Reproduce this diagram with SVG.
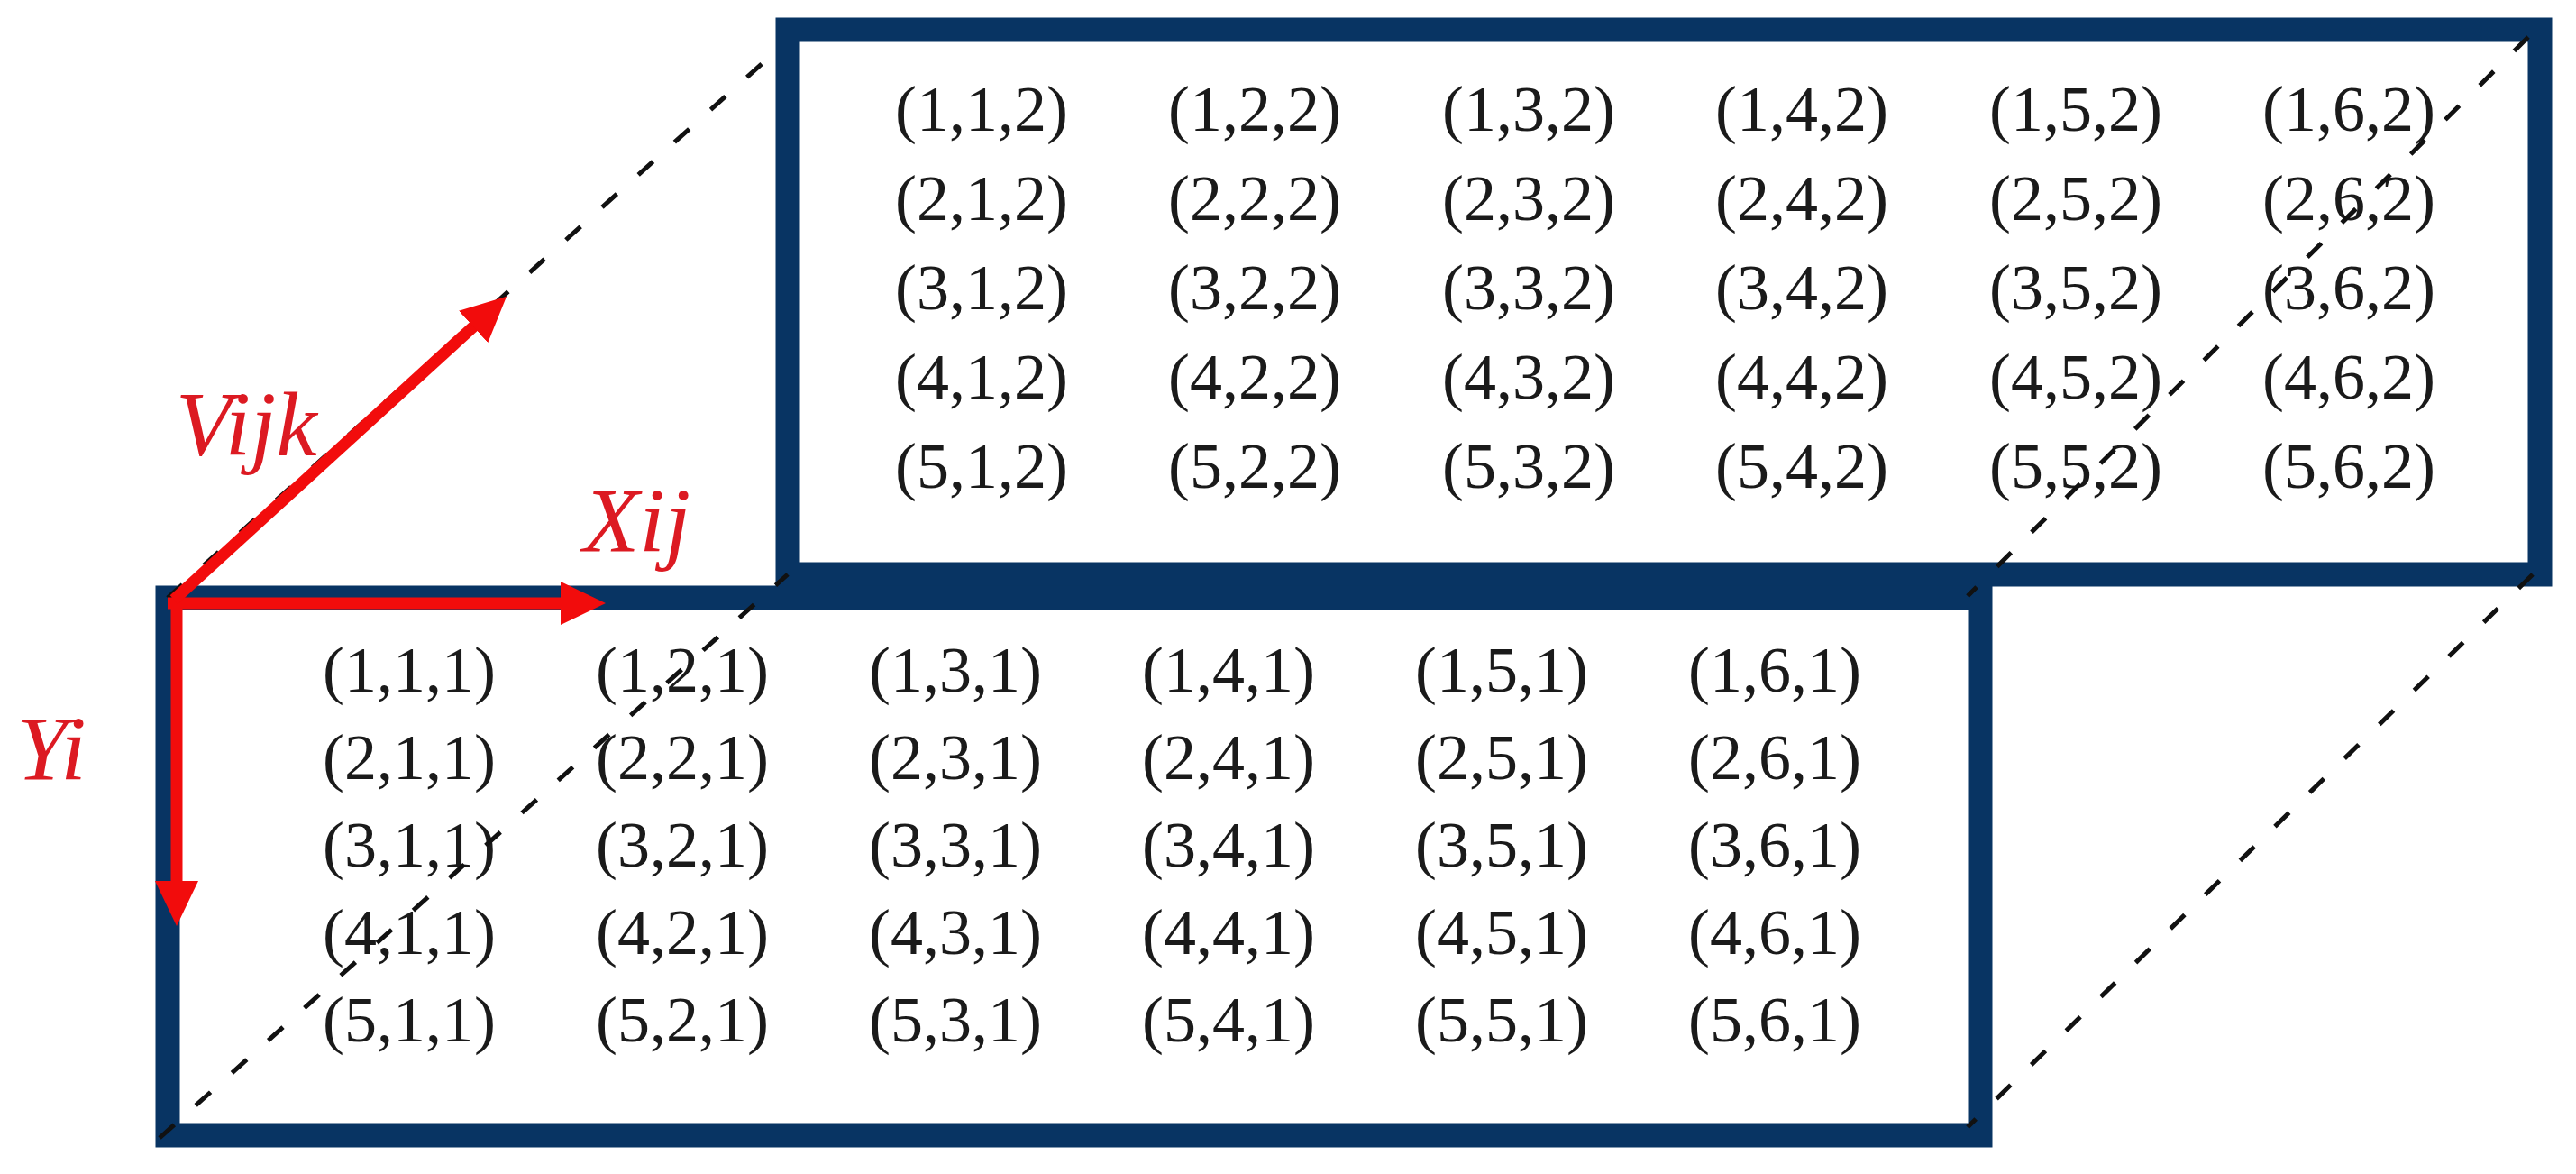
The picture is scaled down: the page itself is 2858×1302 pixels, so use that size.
<svg xmlns="http://www.w3.org/2000/svg" width="2858" height="1302" viewBox="0 0 2858 1302">
<style>
.box{fill:#fff;stroke:#083463;stroke-width:27}
.cell{font-family:"Liberation Serif","Times New Roman",serif;font-size:72px;fill:#1a1a1a}
.dash{stroke:#111;stroke-width:5;stroke-dasharray:22 32;fill:none}
.axis{stroke:#f20c0c;stroke-width:13;fill:none}
.lbl{font-family:"Liberation Serif","Times New Roman",serif;font-style:italic;font-size:102px;fill:#dc1a22}
</style>
<defs>
<marker id="ah" viewBox="0 0 50 48" markerWidth="50" markerHeight="48" refX="8" refY="24" orient="auto" markerUnits="userSpaceOnUse">
<path d="M0,0 L50,24 L0,48 z" fill="#f20c0c"/>
</marker>
</defs>
<rect width="2858" height="1302" fill="#fff"/>
<g id="back-layer">
<rect class="box" x="874" y="33" width="1944" height="604"/>
<g class="cell">
<text x="993" y="145">(1,1,2)</text><text x="1296" y="145">(1,2,2)</text><text x="1600" y="145">(1,3,2)</text><text x="1903" y="145">(1,4,2)</text><text x="2207" y="145">(1,5,2)</text><text x="2510" y="145">(1,6,2)</text>
<text x="993" y="244">(2,1,2)</text><text x="1296" y="244">(2,2,2)</text><text x="1600" y="244">(2,3,2)</text><text x="1903" y="244">(2,4,2)</text><text x="2207" y="244">(2,5,2)</text><text x="2510" y="244">(2,6,2)</text>
<text x="993" y="343">(3,1,2)</text><text x="1296" y="343">(3,2,2)</text><text x="1600" y="343">(3,3,2)</text><text x="1903" y="343">(3,4,2)</text><text x="2207" y="343">(3,5,2)</text><text x="2510" y="343">(3,6,2)</text>
<text x="993" y="442">(4,1,2)</text><text x="1296" y="442">(4,2,2)</text><text x="1600" y="442">(4,3,2)</text><text x="1903" y="442">(4,4,2)</text><text x="2207" y="442">(4,5,2)</text><text x="2510" y="442">(4,6,2)</text>
<text x="993" y="541">(5,1,2)</text><text x="1296" y="541">(5,2,2)</text><text x="1600" y="541">(5,3,2)</text><text x="1903" y="541">(5,4,2)</text><text x="2207" y="541">(5,5,2)</text><text x="2510" y="541">(5,6,2)</text>
</g>
</g>
<g id="front-layer">
<rect class="box" x="186" y="663" width="2011" height="596"/>
<g class="cell">
<text x="358" y="767">(1,1,1)</text><text x="661" y="767">(1,2,1)</text><text x="964" y="767">(1,3,1)</text><text x="1267" y="767">(1,4,1)</text><text x="1570" y="767">(1,5,1)</text><text x="1873" y="767">(1,6,1)</text>
<text x="358" y="864">(2,1,1)</text><text x="661" y="864">(2,2,1)</text><text x="964" y="864">(2,3,1)</text><text x="1267" y="864">(2,4,1)</text><text x="1570" y="864">(2,5,1)</text><text x="1873" y="864">(2,6,1)</text>
<text x="358" y="961">(3,1,1)</text><text x="661" y="961">(3,2,1)</text><text x="964" y="961">(3,3,1)</text><text x="1267" y="961">(3,4,1)</text><text x="1570" y="961">(3,5,1)</text><text x="1873" y="961">(3,6,1)</text>
<text x="358" y="1058">(4,1,1)</text><text x="661" y="1058">(4,2,1)</text><text x="964" y="1058">(4,3,1)</text><text x="1267" y="1058">(4,4,1)</text><text x="1570" y="1058">(4,5,1)</text><text x="1873" y="1058">(4,6,1)</text>
<text x="358" y="1155">(5,1,1)</text><text x="661" y="1155">(5,2,1)</text><text x="964" y="1155">(5,3,1)</text><text x="1267" y="1155">(5,4,1)</text><text x="1570" y="1155">(5,5,1)</text><text x="1873" y="1155">(5,6,1)</text>
</g>
</g>
<g id="connectors">
<line class="dash" x1="186" y1="663" x2="866" y2="52"/>
<line class="dash" x1="177" y1="1262" x2="874" y2="637"/>
<line class="dash" x1="2805" y1="41" x2="2183" y2="661"/>
<line class="dash" x1="2810" y1="637" x2="2183" y2="1250"/>
</g>
<g id="axes">
<line class="axis" x1="186" y1="669" x2="630" y2="669" marker-end="url(#ah)"/>
<line class="axis" x1="196" y1="663" x2="196" y2="985" marker-end="url(#ah)"/>
<line class="axis" x1="193" y1="665" x2="531" y2="357" marker-end="url(#ah)"/>
</g>
<g id="labels">
<text class="lbl" x="195" y="505">Vijk</text>
<text class="lbl" x="647" y="612">Xij</text>
<text class="lbl" x="18" y="865">Yi</text>
</g>
</svg>
